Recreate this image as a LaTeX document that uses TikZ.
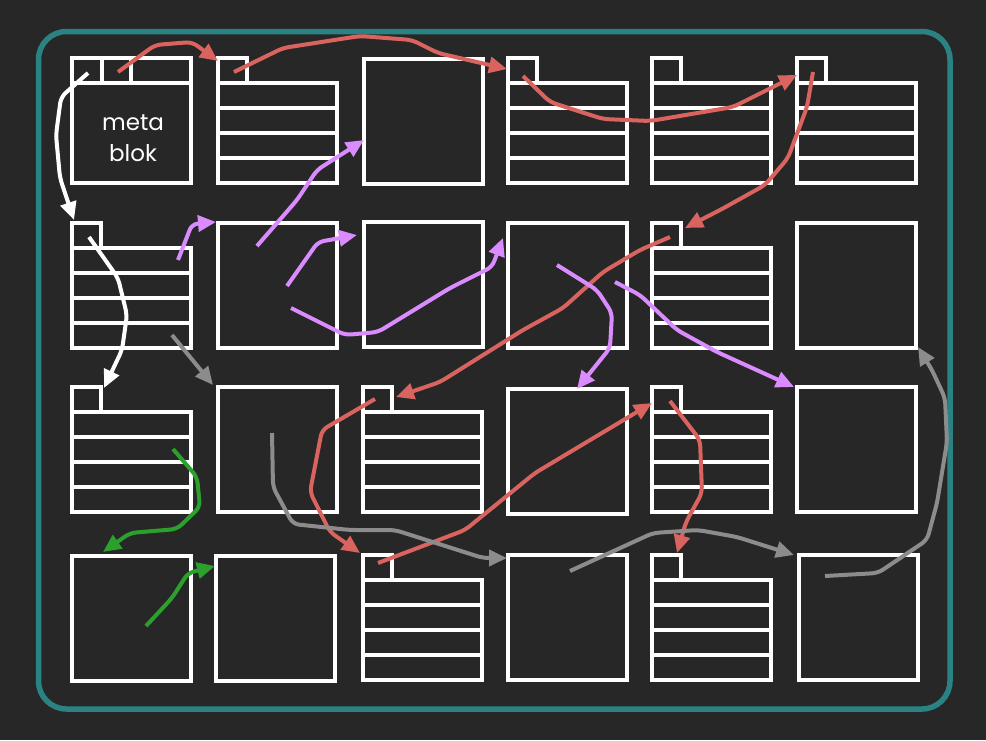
\documentclass[tikz,border=0pt]{standalone}
\usepackage{fontspec}
\setmainfont{Poppins}
\usetikzlibrary{arrows.meta}

\definecolor{bgdark}{HTML}{272727}
\definecolor{frameteal}{HTML}{2A8282}
\definecolor{linkred}{HTML}{D9645F}
\definecolor{linkviolet}{HTML}{DA8CFF}
\definecolor{linkgreen}{HTML}{2CA02C}
\definecolor{linkgrey}{HTML}{8C8C8C}

% index block: tab on top, four rows below
\newcommand{\idxblock}[2]{%
    \draw[blockline] (#1,#2) rectangle ++(29,25);
    \draw[blockline] (#1,#2+25) rectangle ++(119,100);
    \foreach \k in {1,2,3} \draw[blockline] (#1,#2+25+25*\k) -- ++(119,0);
}
\newcommand{\plainblock}[2]{%
    \draw[blockline] (#1,#2) rectangle ++(119,125);
}

\begin{document}
\begin{tikzpicture}[x=1pt, y=-1pt,
    blockline/.style={white, line width=3.5},
    link/.style={line width=4, line join=round, rounded corners=6, -{Triangle[length=18pt, width=16pt]}}]
    \fill[bgdark] (0,0) rectangle (986,740);
    \useasboundingbox (0,0) rectangle (986,740);

    \draw[frameteal, line width=5.5, rounded corners=28] (38.5,31.5) rectangle (950,709);

    % meta block
    \draw[blockline] (72,58) rectangle (191,183);
    \draw[blockline] (72,83) -- (191,83);
    \draw[blockline] (102,58) -- (102,83);
    \draw[blockline] (131,58) -- (131,83);
    \node[white, font=\fontsize{23}{31}\selectfont, align=center] (meta) at (133,138) {meta\\blok};

    \foreach \bx/\by in {218/58, 508/58, 652/58, 797/58,
                         72/223, 652/223,
                         72/387, 363/387, 652/387,
                         363/555, 652/555}
        \idxblock{\bx}{\by};

    \foreach \bx/\by in {364/59,
                         218/223, 364/222, 508/223, 797/223,
                         218/387, 508/389, 797/387,
                         72/556, 216/556, 508/555, 799/555}
        \plainblock{\bx}{\by};

    % white
    \draw[link, white] (88,73) -- (61,97) -- (56,135) -- (60,178) -- (74,220);
    \draw[link, white] (89,237) -- (118,278) -- (127,315) -- (122,350) -- (104,388);

    % red
    \draw[link, linkred] (118,72) -- (155,45) -- (192,42) -- (218,61);
    \draw[link, linkred] (234,72) -- (283,48) -- (360,36) -- (412,40) -- (438,53) -- (507,69);
    \draw[link, linkred] (523,76) -- (550,102) -- (603,119) -- (650,121) -- (733,107) -- (797,75);
    \draw[link, linkred] (813,72) -- (807,107) -- (788,158) -- (765,185) -- (722,209) -- (685,228);
    \draw[link, linkred] (670,237) -- (640,250) -- (603,272) -- (563,308) -- (523,330) -- (440,382) -- (396,397);
    \draw[link, linkred] (375,399) -- (322,430) -- (310,492) -- (330,532) -- (360,553);
    \draw[link, linkred] (378,563) -- (465,530) -- (535,473) -- (652,403);
    \draw[link, linkred] (670,401) -- (700,440) -- (702,493) -- (686,522) -- (677,553);

    % violet
    \draw[link, linkviolet] (178,260) -- (192,224) -- (216,222);
    \draw[link, linkviolet] (257,246) -- (297,200) -- (317,170) -- (364,140);
    \draw[link, linkviolet] (287,286) -- (318,242) -- (357,235);
    \draw[link, linkviolet] (291,308) -- (345,335) -- (378,332) -- (450,288) -- (492,267) -- (503,238);
    \draw[link, linkviolet] (557,265) -- (597,290) -- (612,313) -- (610,348) -- (577,389);
    \draw[link, linkviolet] (615,282) -- (640,295) -- (677,330) -- (717,352) -- (794,387);

    % green
    \draw[link, linkgreen] (173,449) -- (197,477) -- (200,507) -- (177,529) -- (130,533) -- (103,552);
    \draw[link, linkgreen] (146,626) -- (172,598) -- (188,573) -- (215,566);

    % grey
    \draw[link, linkgrey] (172,335) -- (213,385);
    \draw[link, linkgrey] (272,433) -- (273,487) -- (293,524) -- (350,530) -- (395,530) -- (483,558) -- (507,558);
    \draw[link, linkgrey] (570,571) -- (653,533) -- (698,530) -- (737,537) -- (794,555);
    \draw[link, linkgrey] (825,576) -- (878,573) -- (927,540) -- (937,503) -- (947,442) -- (945,398) -- (932,370) -- (918,347);
\end{tikzpicture}
\end{document}
